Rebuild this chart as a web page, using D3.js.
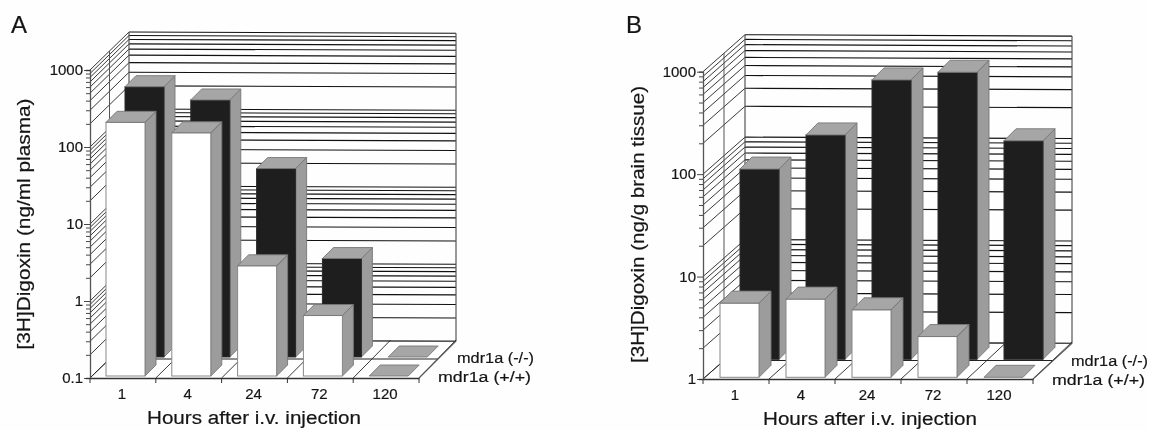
<!DOCTYPE html>
<html><head><meta charset="utf-8">
<script src="https://cdn.jsdelivr.net/npm/d3@7"></script>
<style>html,body{margin:0;padding:0;background:#fefefe}svg{display:block;filter:blur(0.35px)}text{font-family:"Liberation Sans",Arial,sans-serif;fill:#151515;stroke:#151515;stroke-width:0.2px}</style>
</head><body><svg id="c" width="1149" height="430"></svg>
<script>
const hours = ["1","4","24","72","120"];
const plasmaKnockout = [324,218,28,1.9,0.1];
const plasmaWild = [197,144,2.7,0.61,0.1];
const brainKnockout = [72,155,534,634,136];
const brainWild = [5.3,5.8,4.56,2.5,1];
const seriesNames = ["mdr1a (-/-)","mdr1a (+/+)"];
const plasmaTicks = [0.1,1,10,100,1000];
const brainTicks = [1,10,100,1000];
const xTitle = "Hours after i.v. injection";
const plasmaTitle = "[3H]Digoxin (ng/ml plasma)";
const brainTitle = "[3H]Digoxin (ng/g brain tissue)";

const svg = d3.select("#c");

function minors(ticks){
  const out=[];
  ticks.forEach((t,i)=>{ if(i===ticks.length-1){out.push(t);return;}
    for(let m=1;m<10;m++) out.push(+(t*m).toPrecision(2)); });
  return out;
}

function panel(o){
  const g = svg.append("g");
  const y = d3.scaleLog().domain(o.domain).range([o.yBase,o.yTop]);
  const x = d3.scaleBand().domain(hours).range([o.x0,o.x1]);
  const vals = minors(o.ticks);
  const line=(x1,y1,x2,y2,c="#111",w=1.1)=>g.append("line").attr("x1",x1).attr("y1",y1).attr("x2",x2).attr("y2",y2).attr("stroke",c).attr("stroke-width",w);
  const bx=o.x0+o.dxL, rx=o.x1+o.dxR, axisC="#555";

  // walls
  g.selectAll(".w").data(vals).join("line").attr("x1",o.x0).attr("y1",d=>y(d)).attr("x2",bx).attr("y2",d=>y(d)+o.dy).attr("stroke","#222").attr("stroke-width",0.9);
  g.selectAll(".b").data(vals).join("line").attr("x1",bx).attr("y1",d=>y(d)+o.dy).attr("x2",rx).attr("y2",d=>y(d)+o.dy+o.tilt).attr("stroke","#111").attr("stroke-width",1.15);
  line(bx,o.yBase+o.dy,bx,o.yTop+o.dy,axisC,1.2);
  line(rx,o.yBase+o.dy+o.tilt,rx,o.yTop+o.dy+o.tilt,axisC,1.2);
  const mx=o.x0+o.dxL/2, my=o.dy/2;
  line(mx,o.yBase+my,mx,o.yTop+my,axisC,1);

  // floor
  line(mx,o.yBase+my,o.x1+o.dxR/2,o.yBase+my,"#222",1);
  line(bx,o.yBase+o.dy,rx,o.yBase+o.dy+o.tilt,axisC,1);
  const edges=[...hours.map(h=>x(h)),o.x1];
  g.selectAll(".f").data(edges).join("line").attr("x1",d=>d).attr("y1",o.yBase).attr("x2",(d,i)=>d+o.dxL+(o.dxR-o.dxL)*i/5).attr("y2",o.yBase+o.dy).attr("stroke","#222").attr("stroke-width",0.9);

  // bars
  function bars(values,row){
    const sx=row?o.rowDx:0, sy=row?o.rowDy:0;
    const dat=hours.map((h,i)=>({h,v:values[i]}));
    const gg=g.append("g");
    dat.forEach(d=>{
      const L=x(d.h)+o.inset+sx, R=L+o.faceW, B=o.yBase-o.lift+sy, T=y(d.v)-o.lift+sy, s=o.side;
      const flat=Math.abs(B-T)<0.5;
      const poly=(pts,fill)=>gg.append("polygon").attr("points",pts.map(p=>p.join(",")).join(" ")).attr("fill",fill).attr("stroke","#777").attr("stroke-width",0.9).attr("stroke-linejoin","round");
      if(!flat){
        poly([[R,T],[R+s,T-s],[R+s,B-s],[R,B]],"#9c9c9c");
        gg.append("rect").attr("x",L).attr("y",T).attr("width",o.faceW).attr("height",B-T).attr("fill",row?"#1e1e1e":"#ffffff").attr("stroke",row?"#2a2a2a":"#888").attr("stroke-width",1);
      }
      poly([[L,T],[L+s,T-s],[R+s,T-s],[R,T]],"#a6a6a6");
    });
  }
  bars(o.back,true);
  bars(o.front,false);

  // front axes
  const left=d3.axisLeft(y).tickValues(vals).tickSize(4).tickFormat(d=>o.ticks.includes(d)?String(d):"").tickPadding(3);
  const ay=g.append("g").attr("transform",`translate(${o.x0},0)`).call(left);
  ay.select(".domain").attr("stroke",axisC).attr("stroke-width",1.3);
  ay.selectAll(".tick line").attr("stroke","#333").attr("stroke-width",0.9);
  ay.selectAll(".tick").filter(d=>o.ticks.includes(d)).select("line").attr("x2",-6);
  ay.selectAll("text").attr("font-size",15).attr("font-family",'"Liberation Sans",Arial,sans-serif').attr("x",-7);

  const bottom=d3.axisBottom(x).tickSize(0).tickPadding(10);
  const ax=g.append("g").attr("transform",`translate(0,${o.yBase})`).call(bottom);
  ax.select(".domain").attr("stroke","#333").attr("stroke-width",1.3);
  ax.selectAll("text").attr("font-size",15).attr("font-family",'"Liberation Sans",Arial,sans-serif').attr("dx",-1);
  g.selectAll(".t").data(edges).join("line").attr("x1",d=>d).attr("x2",d=>d).attr("y1",o.yBase).attr("y2",o.yBase+5).attr("stroke","#333").attr("stroke-width",1);

  // right floor edge
  line(o.x1,o.yBase,rx,o.yBase+o.dy+o.tilt,axisC,1.1);

  // text
  const t=(s,a,b,fs,extra={})=>{const e=g.append("text").attr("x",a).attr("y",b).attr("font-size",fs).text(s);Object.entries(extra).forEach(([k,v])=>e.attr(k,v));return e;};
  t(o.letter,o.letterX,o.letterY,24);
  t(o.title,0,0,o.titleFs,{transform:`translate(${o.titleX},${o.titleY}) rotate(-90)`,"text-anchor":"middle",textLength:o.titleLen,lengthAdjust:"spacingAndGlyphs"});
  t(xTitle,o.xTitleX,o.xTitleY,18,{"text-anchor":"middle",textLength:214,lengthAdjust:"spacingAndGlyphs"});
  t(seriesNames[0],o.leg0X,o.leg0Y,15.5,{textLength:77,lengthAdjust:"spacingAndGlyphs"});
  t(seriesNames[1],o.leg1X,o.leg1Y,15.5,{textLength:93,lengthAdjust:"spacingAndGlyphs"});
}

panel({domain:[0.1,1000],ticks:plasmaTicks,back:plasmaKnockout,front:plasmaWild,
  x0:90,x1:419,yBase:378,yTop:70,dxL:39,dxR:37,dy:-38,tilt:1.2,
  inset:16,faceW:39,side:11,lift:2,rowDx:19,rowDy:-19,
  letter:"A",letterX:11,letterY:33,title:plasmaTitle,titleX:30,titleY:224,titleFs:18.5,titleLen:251,
  xTitleX:254,xTitleY:424,leg0X:457,leg0Y:363,leg1X:438,leg1Y:382});
panel({domain:[1,1000],ticks:brainTicks,back:brainKnockout,front:brainWild,
  x0:703,x1:1033,yBase:379,yTop:71.7,dxL:42,dxR:39,dy:-37,tilt:1.4,
  inset:17,faceW:39,side:12,lift:1.7,rowDx:20,rowDy:-18,
  letter:"B",letterX:626,letterY:33,title:brainTitle,titleX:644,titleY:224.5,titleFs:18.5,titleLen:277,
  xTitleX:870,xTitleY:425,leg0X:1071,leg0Y:366,leg1X:1052,leg1Y:385});
</script></body></html>
